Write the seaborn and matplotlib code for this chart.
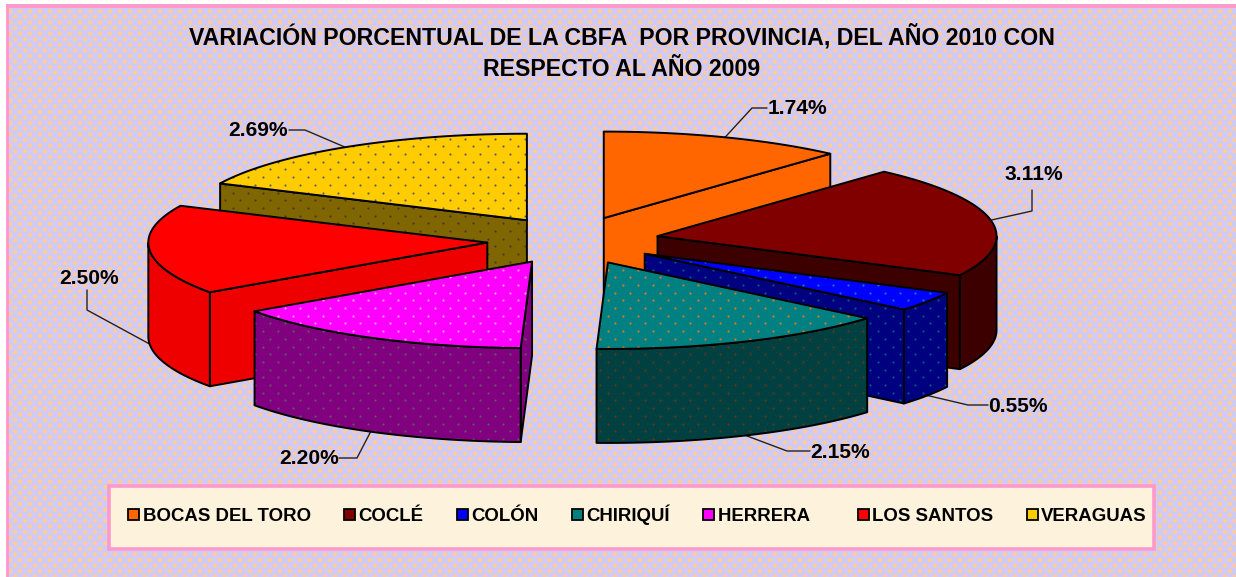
import numpy as np
import matplotlib
matplotlib.use("Agg")
import matplotlib.pyplot as plt
from matplotlib.patches import Polygon, Rectangle, Patch
import seaborn as sns

# ---- data ----
categories = ["BOCAS DEL TORO", "COCLÉ", "COLÓN", "CHIRIQUÍ", "HERRERA", "LOS SANTOS", "VERAGUAS"]
values = [1.74, 3.11, 0.55, 2.15, 2.20, 2.50, 2.69]
title = "VARIACIÓN PORCENTUAL DE LA CBFA  POR PROVINCIA, DEL AÑO 2010 CON\nRESPECTO AL AÑO 2009"

# ---- styles ----
top_colors = ["#FF6600", "#800000", "#0000FF", "#008080", "#FF00FF", "#FF0000", "#FFCC00"]
side_colors = ["#FF6600", "#3C0000", "#000080", "#004040", "#800080", "#EE0000", "#806600"]
top_dots = [None, None, "#0A7FC0", "#E07A20", "#FFA0FF", None, "#5A5A70"]
side_dots = [None, None, "#00607A", "#6A3A10", "#5F5F60", None, "#443A30"]
# leader elbow, leader end, label centre, in figure pixels
elbows = [(752, 108), (1032, 211), (968, 405), (787, 451), (357, 458), (87, 310), (305, 130)]
ends = [(767, 108), (1032, 190), (988, 405), (810, 451), (339, 458), (87, 290), (289, 130)]
label_pos = [(797, 109), (1034, 175), (1018, 406), (840, 452), (309, 459), (89, 278), (258, 131)]

sns.set_style("white")
palette = sns.color_palette(top_colors)
plt.rcParams["font.family"] = ["Liberation Sans", "DejaVu Sans"]

W, H = 1236, 577
CX, CY, RX, RY, DEPTH, EXPLODE_X, EXPLODE_Y = 573, 240.5, 339, 86.5, 94, 86, 24
DOT_DX, DOT_DY = 15.0, 7.7

fig = plt.figure(figsize=(W / 100, H / 100), dpi=100, facecolor="white")
ax = fig.add_axes([0, 0, 1, 1])
ax.set_axis_off()

# patterned background
ax.add_patch(Rectangle((6, 4), W - 6, H - 4, fc="#FF99CC", ec="none", zorder=0))
yy, xx = np.mgrid[8:H, 9:W] + 0.5
DX, DY = 10.0, 5.6
row = np.round(yy / DY)
col = np.round((xx - (row % 2) * DX / 2) / DX)
dist = np.hypot(xx - (col * DX + (row % 2) * DX / 2), yy - row * DY)
alpha = np.clip(2.7 - dist, 0, 1)[..., None]
base = np.array([0xCF, 0xCB, 0xF6]) / 255
dotc = np.array([0xFF, 0xCC, 0x99]) / 255
ax.imshow(base * (1 - alpha) + dotc * alpha, extent=(9, W, H, 8), aspect="auto", zorder=1,
          interpolation="nearest")


def face(verts, color, dot, z):
    verts = np.asarray(verts, dtype=float)
    body = Polygon(verts, closed=True, fc=color, ec="none", zorder=z)
    ax.add_patch(body)
    if dot:
        # lattice of small dots clipped to the face
        r0 = int(verts[:, 1].min() // DOT_DY)
        r1 = int(verts[:, 1].max() // DOT_DY) + 1
        n0 = int(verts[:, 0].min() // DOT_DX) - 1
        n1 = int(verts[:, 0].max() // DOT_DX) + 2
        rows, cols = np.mgrid[r0:r1 + 1, n0:n1 + 1]
        sc = ax.scatter((cols + (rows % 2) / 2).ravel() * DOT_DX, rows.ravel() * DOT_DY,
                        s=2.4, c=dot, linewidths=0, zorder=z + 0.005)
        sc.set_clip_path(body)
    ax.add_patch(Polygon(verts, closed=True, fc="none", ec="black", lw=1.4, joinstyle="round", zorder=z + 0.01))


def rim(tip, a):
    return tip + np.column_stack([RX * np.sin(a), -RY * np.cos(a)])


total = sum(values)
angles = np.radians(np.concatenate([[0], np.cumsum(values)]) / total * 360)
mids = (angles[:-1] + angles[1:]) / 2
order = np.argsort(-np.cos(mids))
down = np.array([0, DEPTH])

for rank, i in enumerate(order):
    a0, a1, m = angles[i], angles[i + 1], mids[i]
    tip = np.array([CX + EXPLODE_X * np.sin(m), CY - EXPLODE_Y * np.cos(m)])
    z = 10 + rank
    top_arc = rim(tip, np.linspace(a0, a1, 100))

    # radial cut faces that look towards the viewer
    for a, visible in ((a0, np.sin(a0) < -1e-6), (a1, np.sin(a1) > 1e-6)):
        if visible:
            p = rim(tip, np.array([a]))[0]
            face([tip, p, p + down, tip + down], side_colors[i], side_dots[i], z)

    # outer curved surface, front half only
    t = np.linspace(a0, a1, 200)
    t = t[np.cos(t) <= 0]
    if len(t) > 1:
        arc = rim(tip, t)
        face(np.vstack([arc, (arc + down)[::-1]]), side_colors[i], side_dots[i], z + 0.1)

    # top
    face(np.vstack([tip, top_arc]), palette[i], top_dots[i], z + 0.2)

    # leader line and label
    anchor = rim(tip, np.array([m]))[0] + (down if np.cos(m) < 0 else 0)
    ax.plot([anchor[0], elbows[i][0], ends[i][0]], [anchor[1], elbows[i][1], ends[i][1]],
            color="#222222", lw=1.0, zorder=5 if np.cos(m) >= 0 else z - 1)
    ax.text(*label_pos[i], f"{values[i]:.2f}%", ha="center", va="center", fontsize=15.1,
            fontweight="bold", color="black", zorder=40)

ax.text(622, 52.5, title, ha="center", va="center", fontsize=16.7, fontweight="bold",
        color="black", linespacing=1.48, zorder=40)

# legend
ax.add_patch(Rectangle((109, 486), 1045, 63, fc="#FDF2DC", ec="#FF99CC", lw=2.6, zorder=30))
handles = [Patch(fc=c, ec="black", lw=1.3) for c in palette]
leg_labels = [c + ("   " if c == "HERRERA" else "") for c in categories]
leg = ax.legend(handles, leg_labels, ncol=len(categories), frameon=False, loc="center",
                bbox_to_anchor=(637.5, 515), bbox_transform=ax.transData,
                prop={"size": 13.4, "weight": "bold", "family": "Liberation Sans"},
                labelcolor="black",
                handlelength=0.58, handleheight=0.58, handletextpad=0.2, columnspacing=1.79,
                borderpad=0, borderaxespad=0)
leg.set_zorder(41)

ax.set_xlim(0, W)
ax.set_ylim(H, 0)
fig.savefig("out.png", dpi=100, facecolor="white")
